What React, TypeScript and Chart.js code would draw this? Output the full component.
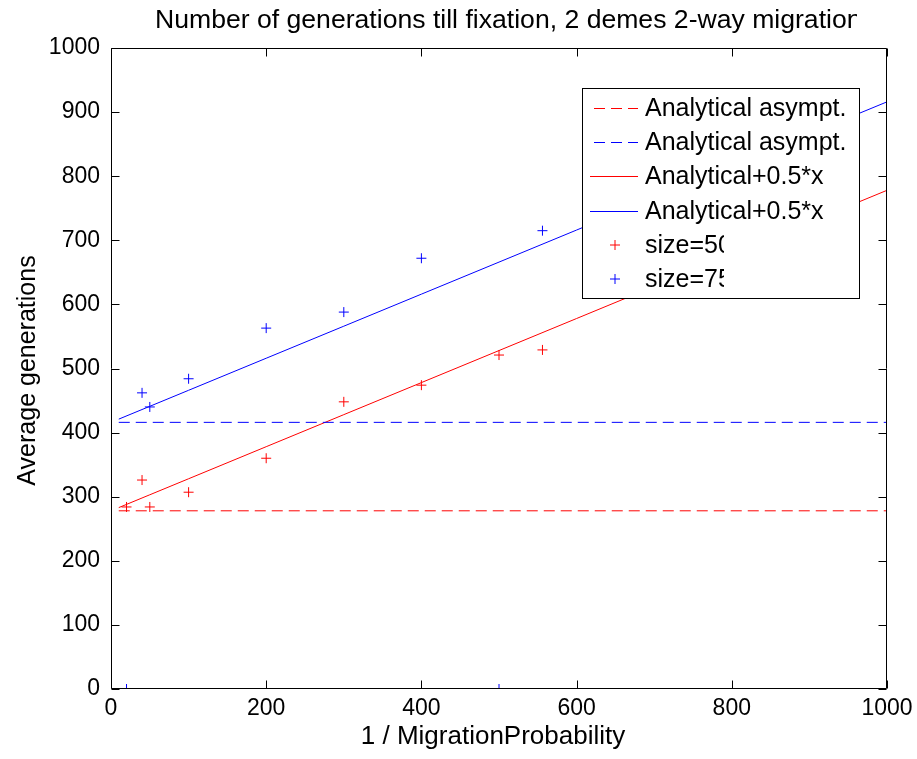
import { useEffect, useRef } from "react";
import { Chart, registerables } from "chart.js";

Chart.register(...registerables);

// ---------- data ----------
const asymX = [10, 1000];
const asym50 = [278, 278];
const asym75 = [416, 416];

const lineX = [10, 50, 100, 200, 300, 400, 500, 600, 700, 800, 900, 1000];
const analytic50 = [283, 303, 328, 378, 428, 478, 528, 578, 628, 678, 728, 778];
const analytic75 = [421, 441, 466, 516, 566, 616, 666, 716, 766, 816, 866, 916];

const sampleX = [20, 40, 50, 100, 200, 300, 400, 500, 556];
const size50 = [284, 326, 284, 307, 360, 448, 474, 521, 529];
const size75 = [0, 462, 440, 484, 563, 588, 672, 0, 715];

const xTicks = [0, 200, 400, 600, 800, 1000];
const yTicks = [0, 100, 200, 300, 400, 500, 600, 700, 800, 900, 1000];

const TITLE = "Number of generations till fixation, 2 demes 2-way migration";
const X_LABEL = "1 / MigrationProbability";
const Y_LABEL = "Average generations";
const seriesLabels = [
  "Analytical asympt.",
  "Analytical asympt.",
  "Analytical+0.5*x",
  "Analytical+0.5*x",
  "size=50",
  "size=75",
];

const RED = "rgb(255,0,0)";
const BLUE = "rgb(0,0,255)";
const seriesColors = [RED, BLUE, RED, BLUE, RED, BLUE];
const FONT = "'Liberation Sans', Arial, Helvetica, sans-serif";

const pts = (xs: number[], ys: number[]) => xs.map((x, i) => ({ x, y: ys[i] }));

const framePlugin = {
  id: "matlabFrame",
  afterDatasetsDraw(chart: any) {
    const { ctx, chartArea: a, scales } = chart;
    const xs = scales.x;
    const ys = scales.y;
    ctx.save();
    ctx.strokeStyle = "#000";
    ctx.lineWidth = 1;
    ctx.beginPath();
    const L = Math.round(a.left) + 0.5;
    const R = Math.round(a.right) - 0.5;
    const T = Math.round(a.top) + 0.5;
    const B = Math.round(a.bottom) - 0.5;
    ctx.rect(L, T, R - L, B - T);
    const tl = 8;
    xTicks.forEach((v) => {
      const px = Math.round(xs.getPixelForValue(v)) + 0.5;
      ctx.moveTo(px, B);
      ctx.lineTo(px, B - tl);
      ctx.moveTo(px, T);
      ctx.lineTo(px, T + tl);
    });
    yTicks.forEach((v) => {
      const py = Math.round(ys.getPixelForValue(v)) + 0.5;
      ctx.moveTo(L, py);
      ctx.lineTo(L + tl, py);
      ctx.moveTo(R, py);
      ctx.lineTo(R - tl, py);
    });
    ctx.stroke();
    ctx.restore();
  },
  afterDraw(chart: any) {
    const { ctx, chartArea: a } = chart;
    ctx.save();
    ctx.fillStyle = "#000";

    // title (clipped on the right as in the original)
    ctx.save();
    ctx.beginPath();
    ctx.rect(0, 0, 857, 40);
    ctx.clip();
    ctx.font = `26.6px ${FONT}`;
    ctx.textAlign = "left";
    ctx.textBaseline = "alphabetic";
    ctx.fillText(TITLE, 155, 28);
    ctx.restore();

    // x label
    ctx.font = `26px ${FONT}`;
    ctx.textAlign = "center";
    ctx.textBaseline = "alphabetic";
    ctx.fillText(X_LABEL, (a.left + a.right) / 2 - 6, 744);

    // y label
    ctx.save();
    ctx.font = `25px ${FONT}`;
    ctx.translate(35, (a.top + a.bottom) / 2 + 2);
    ctx.rotate(-Math.PI / 2);
    ctx.fillText(Y_LABEL, 0, 0);
    ctx.restore();

    // legend
    const bx = 582, by = 88, bw = 277, bh = 210;
    ctx.fillStyle = "#fff";
    ctx.fillRect(bx, by, bw, bh);
    ctx.strokeStyle = "#000";
    ctx.lineWidth = 1;
    ctx.strokeRect(bx + 0.5, by + 0.5, bw, bh);
    const ds = chart.data.datasets;
    ds.forEach((d: any, i: number) => {
      const cyi = Math.round(108 + i * 34.2);
      const cy = cyi + 0.5;
      const col = seriesColors[i];
      ctx.strokeStyle = col;
      ctx.lineWidth = 1;
      if (d.showLine) {
        ctx.setLineDash(d.borderDash || []);
        ctx.beginPath();
        ctx.moveTo(d.borderDash ? 594 : 590, cy);
        ctx.lineTo(638, cy);
        ctx.stroke();
        ctx.setLineDash([]);
      } else {
        ctx.beginPath();
        ctx.moveTo(610, cyi);
        ctx.lineTo(620, cyi);
        ctx.moveTo(615, cyi - 5);
        ctx.lineTo(615, cyi + 5);
        ctx.stroke();
      }
      ctx.save();
      if (!d.showLine) {
        ctx.beginPath();
        ctx.rect(640, cy - 20, 84, 40);
        ctx.clip();
      }
      ctx.fillStyle = "#000";
      ctx.font = `25px ${FONT}`;
      ctx.textAlign = "left";
      ctx.textBaseline = "middle";
      ctx.fillText(d.label, 645, cy + 1);
      ctx.restore();
    });
    ctx.restore();
  },
};

export default function App() {
  const ref = useRef<HTMLCanvasElement | null>(null);
  useEffect(() => {
    document.body.style.margin = "0";
    const canvas = ref.current!;
    const chart = new Chart(canvas, {
      type: "scatter",
      data: {
        datasets: [
          {
            label: seriesLabels[0],
            data: pts(asymX, asym50),
            showLine: true,
            borderColor: RED,
            borderWidth: 1,
            borderDash: [11, 6],
            pointRadius: 0,
          },
          {
            label: seriesLabels[1],
            data: pts(asymX, asym75),
            showLine: true,
            borderColor: BLUE,
            borderWidth: 1,
            borderDash: [11, 6],
            pointRadius: 0,
          },
          {
            label: seriesLabels[2],
            data: pts(lineX, analytic50),
            showLine: true,
            borderColor: RED,
            borderWidth: 1,
            pointRadius: 0,
          },
          {
            label: seriesLabels[3],
            data: pts(lineX, analytic75),
            showLine: true,
            borderColor: BLUE,
            borderWidth: 1,
            pointRadius: 0,
          },
          {
            label: seriesLabels[4],
            data: pts(sampleX, size50),
            showLine: false,
            borderColor: RED,
            backgroundColor: RED,
            pointStyle: "cross",
            pointRadius: 5,
            pointBorderWidth: 1,
          },
          {
            label: seriesLabels[5],
            data: pts(sampleX, size75),
            showLine: false,
            borderColor: BLUE,
            backgroundColor: BLUE,
            pointStyle: "cross",
            pointRadius: 5,
            pointBorderWidth: 1,
          },
        ] as any,
      },
      options: {
        responsive: false,
        animation: false,
        devicePixelRatio: 1,
        layout: { padding: { top: 48, right: 30, left: 0, bottom: 0 } },
        plugins: {
          legend: { display: false },
          title: { display: false },
          tooltip: { enabled: false },
        },
        scales: {
          x: {
            type: "linear",
            min: 0,
            max: 1000,
            grid: { display: false, drawTicks: false },
            border: { display: false },
            ticks: {
              stepSize: 200,
              color: "#000",
              font: { family: FONT, size: 23 },
              padding: 6,
              maxRotation: 0,
              callback: (v: any) => String(v),
            },
            afterFit: (s: any) => {
              s.height = 70;
              s.paddingLeft = 0;
              s.paddingRight = 0;
            },
          },
          y: {
            type: "linear",
            min: 0,
            max: 1000,
            grid: { display: false, drawTicks: false },
            border: { display: false },
            ticks: {
              stepSize: 100,
              color: "#000",
              font: { family: FONT, size: 23 },
              padding: 11,
              callback: (v: any) => String(v),
            },
            afterFit: (s: any) => {
              s.width = 111;
              s.paddingTop = 0;
              s.paddingBottom = 0;
            },
          },
        },
      } as any,
      plugins: [framePlugin],
    });
    return () => chart.destroy();
  }, []);
  return (
    <div style={{ position: "fixed", left: 0, top: 0, width: 917, height: 759, background: "#fff" }}>
      <canvas ref={ref} width={917} height={759} style={{ display: "block" }} />
    </div>
  );
}
